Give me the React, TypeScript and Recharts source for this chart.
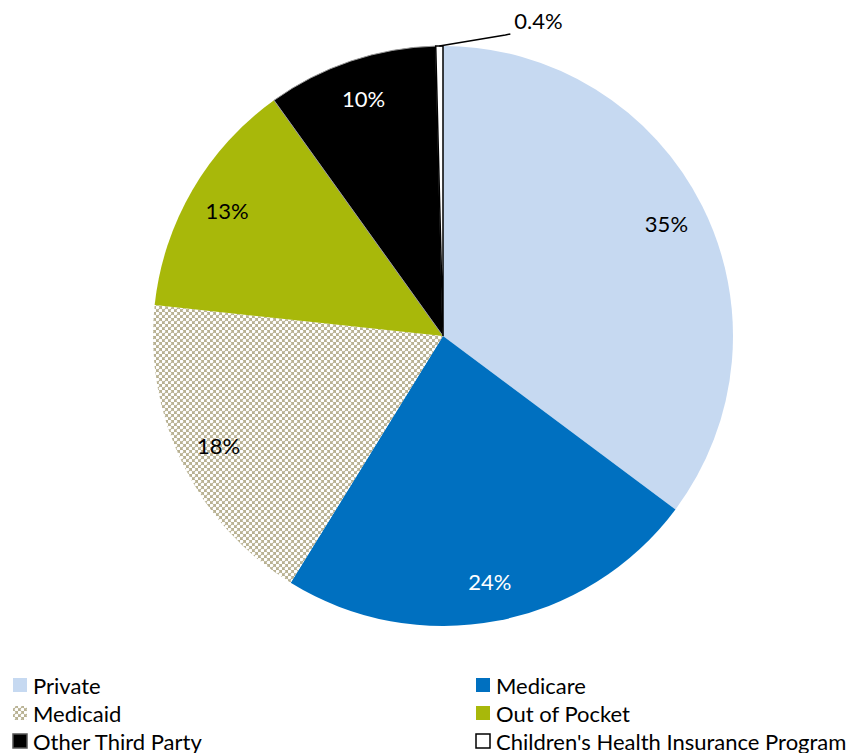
import { PieChart, Pie, Cell, Legend } from 'recharts';

const categories = ['Private', 'Medicare', 'Medicaid', 'Out of Pocket', 'Other Third Party', "Children's Health Insurance Program"];
const shares = [35.2, 23.6, 17.9, 13.4, 9.5, 0.4];
const shareLabels = ['35%', '24%', '18%', '13%', '10%', '0.4%'];
const fills = ['#c6d9f1', '#0070c0', 'url(#medicaidPattern)', '#a8b80a', '#000000', '#ffffff'];
const strokes = ['none', 'none', 'none', 'none', '#9a9a9a', '#000000'];
const labelColors = ['#000', '#fff', '#000', '#000', '#fff', '#000'];

const data = categories.map((name, i) => ({ name, value: shares[i], label: shareLabels[i] }));

const FONT = 'Lato, "Open Sans", sans-serif';
const RAD = Math.PI / 180;

function SliceLabel(props: any): React.ReactElement {
  const { cx, cy, midAngle, outerRadius, index } = props;
  if (index === 5) {
    // small slice: leader line out to the right of the top
    const sx = cx + outerRadius * Math.cos(-midAngle * RAD);
    const sy = cy + outerRadius * Math.sin(-midAngle * RAD);
    return (
      <g>
        <polyline points={`${sx},${sy} ${sx + 66},${sy - 11} ${sx + 71},${sy - 12}`} fill="none" stroke="#000" strokeWidth={1.5} />
        <text x={sx + 75} y={sy - 26} fontFamily={FONT} fontSize={22} fill="#000" dominantBaseline="central">
          {shareLabels[index]}
        </text>
      </g>
    );
  }
  const r = outerRadius * 0.862;
  const x = cx + r * Math.cos(-midAngle * RAD);
  const y = cy + r * Math.sin(-midAngle * RAD);
  return (
    <text x={x} y={y} textAnchor="middle" dominantBaseline="central" fontFamily={FONT} fontSize={22} fill={labelColors[index]}>
      {shareLabels[index]}
    </text>
  );
}

function LegendBox(): React.ReactElement {
  return (
    <div style={{ display: 'grid', gridTemplateColumns: '463px 389px', rowGap: 2, fontFamily: FONT, fontSize: 22, color: '#000' }}>
      {categories.map((name, i) => (
        <div key={name} style={{ display: 'flex', alignItems: 'center', height: 26, paddingLeft: 12, whiteSpace: 'nowrap' }}>
          <svg width={16} height={16} style={{ marginRight: 5, flexShrink: 0 }}>
            <rect x={1} y={1} width={14} height={14} fill={fills[i]} stroke={i === 5 ? '#000' : i === 4 ? '#555' : 'none'} strokeWidth={1.5} />
          </svg>
          <span>{name}</span>
        </div>
      ))}
    </div>
  );
}

export default function App(): React.ReactElement {
  return (
    <div style={{ width: 852, height: 753, background: '#fff', overflow: 'hidden' }}>
      <style>{'body{margin:0}'}</style>
      <svg width={0} height={0} style={{ position: 'absolute' }}>
        <defs>
          <pattern id="medicaidPattern" width={6} height={6} patternUnits="userSpaceOnUse">
            <rect width={6} height={6} fill="#b8b192" />
            <circle cx={1.5} cy={1.5} r={1.8} fill="#ffffff" />
            <circle cx={4.5} cy={4.5} r={1.8} fill="#ffffff" />
          </pattern>
        </defs>
      </svg>
      <PieChart width={852} height={753} margin={{ top: 0, right: 0, bottom: 0, left: 0 }}>
        <Pie
          data={data}
          dataKey="value"
          nameKey="name"
          cx={443}
          cy={336}
          outerRadius={290}
          startAngle={90}
          endAngle={-270}
          isAnimationActive={false}
          label={SliceLabel}
          labelLine={false}
        >
          {data.map((entry, index) => (
            <Cell key={entry.name} fill={fills[index]} stroke={strokes[index]} strokeWidth={index === 5 ? 1.5 : 1} />
          ))}
        </Pie>
        <Legend content={<LegendBox />} wrapperStyle={{ position: 'absolute', left: 0, top: 672, width: 852 }} />
      </PieChart>
    </div>
  );
}
